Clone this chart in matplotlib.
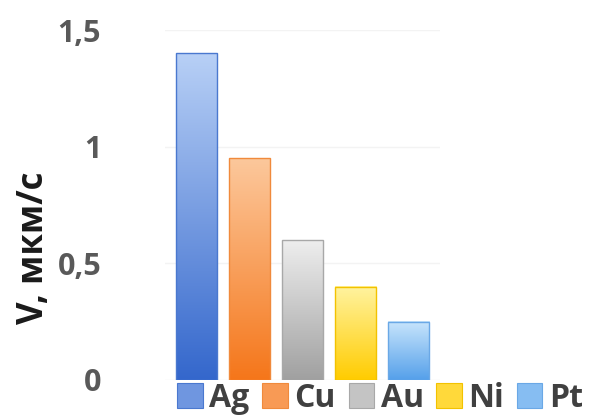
import numpy as np
import matplotlib.pyplot as plt
from matplotlib.colors import LinearSegmentedColormap
from matplotlib.patches import Patch

# Velocity per metal
metals = ["Ag", "Cu", "Au", "Ni", "Pt"]
velocity = [1.40, 0.95, 0.60, 0.40, 0.25]

# (top, bottom) gradient colours for each bar
top_colors = ["#b8d0f6", "#fcc89c", "#eeeeee", "#fff3a0", "#c8e5fc"]
bottom_colors = ["#3467cc", "#f5761a", "#a0a0a0", "#ffcc00", "#55a0ea"]
edge_colors = ["#4a78cf", "#f08a3c", "#a8a8a8", "#f2c200", "#6aa8e6"]
mid_colors = ["#6f96e0", "#f89a55", "#c4c4c4", "#ffd93a", "#86bdf2"]

yticks = [0, 0.5, 1, 1.5]
ytick_labels = ["0", "0,5", "1", "1,5"]

plt.rcParams["font.family"] = ["Open Sans", "DejaVu Sans"]

fig = plt.figure(figsize=(5.94, 4.17), dpi=100)
ax = fig.add_axes([0.278, 0.089, 0.463, 0.839])

x = np.arange(len(metals))
bars = ax.bar(x, velocity, width=0.78, color="none", zorder=3)

grad = np.linspace(0, 1, 256).reshape(-1, 1)
for bar, c_top, c_bot, c_edge in zip(bars, top_colors, bottom_colors, edge_colors):
    cmap = LinearSegmentedColormap.from_list("bar", [c_bot, c_top])
    x0, y0 = bar.get_x(), bar.get_y()
    w, h = bar.get_width(), bar.get_height()
    ax.imshow(grad, cmap=cmap, aspect="auto", origin="lower",
              extent=(x0, x0 + w, y0, y0 + h), zorder=2)
    bar.set_edgecolor(c_edge)
    bar.set_linewidth(1.0)

ax.set_xlim(-0.6, len(metals) - 0.4)
ax.set_ylim(0, 1.5)
ax.set_yticks(yticks)
ax.set_yticklabels(ytick_labels)
ax.set_xticks([])
ax.tick_params(axis="y", length=0, pad=46, labelsize=22, labelcolor="#595959")
for lbl in ax.get_yticklabels():
    lbl.set_fontweight("bold")
ax.grid(axis="y", color="#f3f3f3", linewidth=1, zorder=0)
for s in ax.spines.values():
    s.set_visible(False)

fig.text(0.057, 0.405, "V, мкм/с", rotation=90, ha="center", va="center",
         fontsize=25, fontweight="bold", color="#1a1a1a")

handles = [Patch(facecolor=m, edgecolor=e, linewidth=0.8) for m, e in zip(mid_colors, edge_colors)]
fig.legend(handles, metals, loc="center", bbox_to_anchor=(0.64, 0.045),
           ncol=5, frameon=False, handlelength=0.8, handleheight=0.8,
           handletextpad=0.2, columnspacing=0.4, borderpad=0,
           prop={"size": 23, "weight": "bold"}, labelcolor="#404040")

fig.savefig("out.png", dpi=100)
